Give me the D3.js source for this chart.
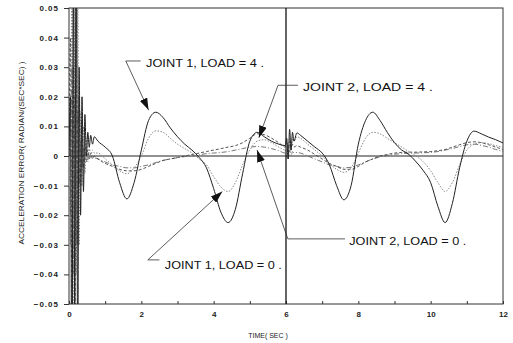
<!DOCTYPE html>
<html>
<head>
<meta charset="utf-8">
<script src="https://cdn.jsdelivr.net/npm/d3@7"></script>
<style>
  body { margin: 0; background: #fff; }
  svg { display: block; font-family: "Liberation Sans", Arial, sans-serif; }
</style>
</head>
<body>
<div id="chart"></div>
<script>
// time axis (sec), shared by all four curves
var times = [0, 0.04, 0.08, 0.12, 0.16, 0.2, 0.24, 0.28, 0.32, 0.36, 0.4, 0.44, 0.48, 0.52, 0.56, 0.6, 0.65, 0.7,
  0.8, 1.0, 1.2, 1.4, 1.6, 1.8, 2.0, 2.2, 2.4, 2.6, 2.8, 3.0, 3.2, 3.4, 3.6, 3.8, 4.0, 4.2, 4.4, 4.6, 4.8, 5.0, 5.2, 5.4, 5.6, 5.8, 5.98,
  6.02, 6.06, 6.1, 6.14, 6.18, 6.22, 6.3, 6.4, 6.6, 6.8, 7.0, 7.2, 7.4, 7.6, 7.8, 8.0, 8.2, 8.4, 8.6, 8.8, 9.0, 9.2, 9.4, 9.6, 9.8,
  10.0, 10.2, 10.4, 10.6, 10.8, 11.0, 11.2, 11.4, 11.6, 11.8, 12.0];

var joint1Load4 = [0, 0.02, -0.09, 0.06, -0.05, 0.09, -0.07, 0.03, -0.02, 0.02, -0.012, 0.014, 0.0, 0.008, 0.003, 0.007, 0.004, 0.0065,
  0.005, 0.003, 0.0, -0.009, -0.0145, -0.009, 0.002, 0.012, 0.0148, 0.013, 0.0095, 0.0065, 0.004, 0.002, -0.0005, -0.004, -0.011, -0.019, -0.0225, -0.018, -0.006, 0.005, 0.008, 0.0065, 0.005, 0.004, 0.0035,
  0.006, -0.001, 0.009, 0.002, 0.008, 0.005, 0.0078, 0.007, 0.005, 0.003, 0.001, -0.003, -0.01, -0.0148, -0.01, 0.004, 0.012, 0.0148, 0.012, 0.008, 0.0045, 0.002, 0.0005, -0.002, -0.005,
  -0.009, -0.017, -0.0225, -0.016, -0.004, 0.005, 0.0084, 0.0075, 0.0064, 0.0055, 0.0044];

var joint1Load0 = [0, -0.03, 0.07, -0.08, 0.05, -0.04, 0.06, -0.03, 0.015, -0.01, 0.01, -0.006, 0.006, -0.002, 0.003, 0.0, 0.002, 0.001,
  0.001, -0.001, -0.003, -0.005, -0.006, -0.004, 0.0, 0.006, 0.0085, 0.008, 0.006, 0.004, 0.0025, 0.001, -0.001, -0.003, -0.007, -0.0105, -0.012, -0.009, -0.003, 0.002, 0.005, 0.0055, 0.0045, 0.003, 0.002,
  0.004, 0.0, 0.006, 0.002, 0.006, 0.005, 0.0065, 0.006, 0.004, 0.002, 0.0, -0.0025, -0.0045, -0.0055, -0.004, 0.001, 0.006, 0.008, 0.0075, 0.006, 0.0045, 0.003, 0.0015, 0.0, -0.002,
  -0.005, -0.009, -0.012, -0.009, -0.003, 0.002, 0.004, 0.0045, 0.0042, 0.0035, 0.003];

var joint2Load4 = [0, 0.04, -0.05, 0.03, -0.07, 0.05, -0.03, 0.02, -0.01, 0.006, -0.004, 0.004, -0.002, 0.002, -0.001, 0.001, -0.001, 0.0,
  -0.001, -0.0025, -0.0035, -0.0045, -0.005, -0.005, -0.0045, -0.0035, -0.0025, -0.0015, -0.001, -0.0005, 0.0, 0.0005, 0.001, 0.0015, 0.002, 0.0025, 0.003, 0.0035, 0.0045, 0.006, 0.0075, 0.0072, 0.006, 0.0045, 0.003,
  0.005, 0.001, 0.005, 0.002, 0.004, 0.003, 0.0035, 0.003, 0.002, 0.0005, -0.001, -0.0025, -0.0035, -0.0045, -0.0045, -0.0035, -0.002, -0.001, 0.0, 0.0005, 0.001, 0.0012, 0.0013, 0.0013, 0.0014,
  0.0015, 0.0018, 0.0022, 0.003, 0.0038, 0.0045, 0.0048, 0.0045, 0.0038, 0.003, 0.0022];

var joint2Load0 = [0, -0.02, 0.03, -0.04, 0.02, -0.03, 0.015, -0.01, 0.005, -0.004, 0.003, -0.002, 0.001, -0.001, 0.0, -0.0005, 0.0, -0.0005,
  -0.001, -0.002, -0.003, -0.0035, -0.004, -0.004, -0.0035, -0.003, -0.0022, -0.0015, -0.001, -0.0006, -0.0002, 0.0, 0.0004, 0.0008, 0.001, 0.0012, 0.0015, 0.002, 0.0025, 0.003, 0.0032, 0.003, 0.0025, 0.0018, 0.001,
  0.003, -0.001, 0.002, 0.0, 0.0015, 0.001, 0.0012, 0.001, 0.0, -0.001, -0.002, -0.003, -0.0035, -0.004, -0.0038, -0.003, -0.002, -0.001, -0.0003, 0.0002, 0.0006, 0.0008, 0.001, 0.001, 0.0011,
  0.0012, 0.0015, 0.002, 0.0025, 0.0032, 0.0038, 0.004, 0.0036, 0.003, 0.0022, 0.0015];

var xTickLabels = [0, 2, 4, 6, 8, 10, 12];
var yTickLabels = [0.05, 0.04, 0.03, 0.02, 0.01, 0, -0.01, -0.02, -0.03, -0.04, -0.05];

// callouts: label text, anchor point on curve (data), elbow (data), label start (data)
var callouts = [
  { text: "JOINT 1, LOAD = 4 .", tip: [2.2, 0.0155], elbow: [1.57, 0.0321], end: [1.98, 0.0321], label: [2.13, 0.0300], len: 118 },
  { text: "JOINT 2, LOAD = 4 .", tip: [5.25, 0.0062], elbow: [5.78, 0.0239], end: [6.33, 0.0239], label: [6.47, 0.0218], len: 130 },
  { text: "JOINT 2, LOAD = 0 .", tip: [5.2, 0.0020], elbow: [6.05, -0.0280], end: [7.63, -0.0280], label: [7.75, -0.0301], len: 117 },
  { text: "JOINT 1, LOAD = 0 .", tip: [4.24, -0.0120], elbow: [2.18, -0.0351], end: [2.5, -0.0351], label: [2.65, -0.0382], len: 117 }
];

var margin = { top: 8, right: 10, bottom: 39, left: 69 },
  width = 513 - margin.left - margin.right,
  height = 343 - margin.top - margin.bottom;

var x = d3.scaleLinear().domain([0, 12]).range([0, width]);
var y = d3.scaleLinear().domain([-0.05, 0.05]).range([height, 0]);

var svg = d3.select("#chart").append("svg")
  .attr("width", 513)
  .attr("height", 343);

svg.append("defs").append("clipPath").attr("id", "plotclip")
  .append("rect").attr("width", width).attr("height", height);

svg.select("defs").append("marker")
  .attr("id", "arrow")
  .attr("viewBox", "0 0 12 8")
  .attr("refX", 12).attr("refY", 4)
  .attr("markerWidth", 12).attr("markerHeight", 8)
  .attr("markerUnits", "userSpaceOnUse")
  .attr("orient", "auto")
  .append("path").attr("d", "M0,0L12,4L0,8Z").attr("fill", "#111");

var g = svg.append("g")
  .attr("transform", "translate(" + margin.left + "," + margin.top + ")");

// frame
g.append("rect")
  .attr("width", width).attr("height", height)
  .attr("fill", "none").attr("stroke", "#333").attr("stroke-width", 1);

// axes
var xAxis = g.append("g")
  .attr("transform", "translate(0," + height + ")")
  .call(d3.axisBottom(x).tickValues(d3.range(0, 13, 1)).tickSize(-3)
    .tickFormat(function (d) { return xTickLabels.indexOf(d) >= 0 ? d : ""; }));
xAxis.select(".domain").remove();
xAxis.selectAll("line").attr("stroke", "#333");
xAxis.selectAll("text").attr("dy", 0).attr("y", 13)
  .style("font-size", "8px").style("font-weight", "bold").attr("fill", "#222");

var yAxis = g.append("g")
  .call(d3.axisLeft(y).tickValues(yTickLabels).tickSize(5)
    .tickFormat(function (d) { return d === 0 ? "0" : d3.format(".2f")(d); }));
yAxis.select(".domain").remove();
yAxis.selectAll("line").attr("stroke", "#333");
yAxis.selectAll("text").attr("x", -10)
  .style("font-size", "8px").style("font-weight", "bold").style("letter-spacing", "1px").attr("fill", "#222");

// zero line and the 6 s restart line
g.append("line")
  .attr("x1", x(0)).attr("x2", x(12)).attr("y1", y(0)).attr("y2", y(0))
  .attr("stroke", "#222").attr("stroke-width", 1);
g.append("line")
  .attr("x1", x(6)).attr("x2", x(6)).attr("y1", y(0.05)).attr("y2", y(-0.05))
  .attr("stroke", "#111").attr("stroke-width", 1.3);

var line = d3.line()
  .x(function (d) { return x(d[0]); })
  .y(function (d) { return y(d[1]); })
  .curve(d3.curveMonotoneX);

var series = [
  { values: joint2Load0, color: "#666", dash: "5,2,1,2", w: 0.9 },
  { values: joint2Load4, color: "#444", dash: "3,2", w: 0.9 },
  { values: joint1Load0, color: "#888", dash: "1.5,1.5", w: 1 },
  { values: joint1Load4, color: "#222", dash: null, w: 1 }
];

var plot = g.append("g").attr("clip-path", "url(#plotclip)");
series.forEach(function (s) {
  plot.append("path")
    .datum(times.map(function (t, i) { return [t, s.values[i]]; }))
    .attr("d", line)
    .attr("fill", "none")
    .attr("stroke", s.color)
    .attr("stroke-width", s.w)
    .attr("stroke-dasharray", s.dash);
});

// callouts
callouts.forEach(function (c) {
  g.append("polyline")
    .attr("points", [c.end, c.elbow, c.tip].map(function (p) { return x(p[0]) + "," + y(p[1]); }).join(" "))
    .attr("fill", "none").attr("stroke", "#333").attr("stroke-width", 0.8)
    .attr("marker-end", "url(#arrow)");
  g.append("text")
    .attr("x", x(c.label[0])).attr("y", y(c.label[1]))
    .attr("textLength", c.len).attr("lengthAdjust", "spacingAndGlyphs")
    .style("font-size", "11px").attr("fill", "#111")
    .text(c.text);
});

// axis titles
svg.append("text")
  .attr("transform", "translate(24,153) rotate(-90)")
  .attr("text-anchor", "middle")
  .attr("textLength", 183).attr("lengthAdjust", "spacingAndGlyphs")
  .style("font-size", "7px").attr("fill", "#222")
  .text("ACCELERATION ERROR( RADIAN/(SEC*SEC) )");

svg.append("text")
  .attr("x", margin.left + x(6) - 18).attr("y", 338)
  .attr("text-anchor", "middle")
  .style("font-size", "7px").attr("fill", "#222")
  .text("TIME( SEC )");
</script>
</body>
</html>
